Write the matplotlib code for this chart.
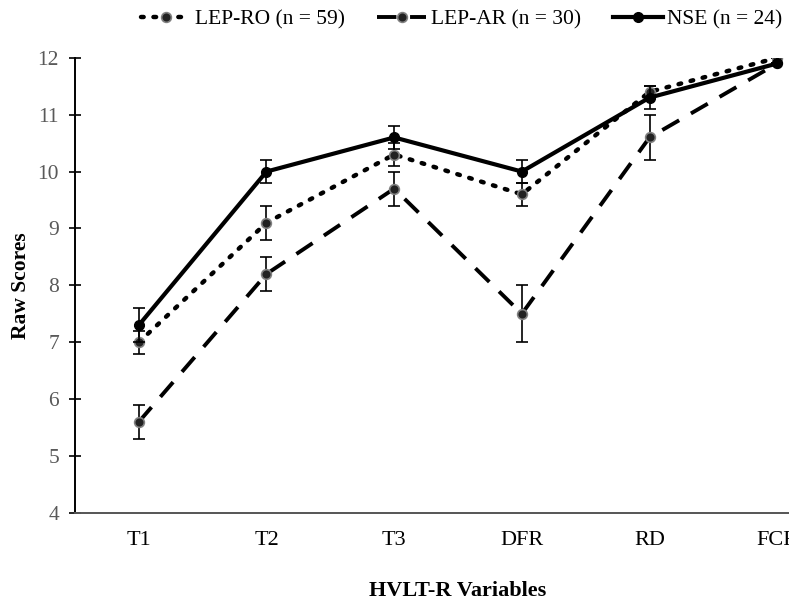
import matplotlib
matplotlib.use("Agg")
import matplotlib.pyplot as plt
from matplotlib.lines import Line2D
import numpy as np

plt.rcParams['font.family'] = ['Liberation Serif', 'DejaVu Serif']

categories = ["T1", "T2", "T3", "DFR", "RD", "FCR"]
lep_ro = [7.0, 9.1, 10.3, 9.6, 11.4, 12.0]
lep_ro_err = [0.2, 0.3, 0.2, 0.2, 0.1, 0.0]
lep_ar = [5.6, 8.2, 9.7, 7.5, 10.6, 11.9]
lep_ar_err = [0.3, 0.3, 0.3, 0.5, 0.4, 0.0]
nse = [7.3, 10.0, 10.6, 10.0, 11.3, 11.9]
nse_err = [0.3, 0.2, 0.2, 0.2, 0.2, 0.0]
labels = ["LEP-RO (n = 59)", "LEP-AR (n = 30)", "NSE (n = 24)"]

fig = plt.figure(figsize=(7.89, 6.02), dpi=100)
ax = fig.add_axes([0.095, 0.148, 0.971, 0.756])
x = np.arange(len(categories))

styles = [
    dict(linestyle=(0, (0.6, 2.2)), linewidth=3.2, dash_capstyle='round',
         markerfacecolor='#222222', markeredgecolor='#808080', markeredgewidth=1.2),
    dict(linestyle=(0, (5, 3.5)), linewidth=2.8,
         markerfacecolor='#222222', markeredgecolor='#808080', markeredgewidth=1.2),
    dict(linestyle='-', linewidth=3.0, markerfacecolor='black', markeredgecolor='black'),
]
series = [(lep_ro, lep_ro_err), (lep_ar, lep_ar_err), (nse, nse_err)]
handles = []
for i, ((vals, errs), st) in enumerate(zip(series, styles)):
    ax.errorbar(x, vals, yerr=errs, color='black', marker='o', markersize=7,
                ecolor='black', elinewidth=1.2, capsize=4, capthick=1.2,
                zorder=3 + (i == 2), **st)
    handles.append(Line2D([], [], color='black', marker='o', markersize=7, **st))

ax.set_xlim(-0.5, 5.5)
ax.set_ylim(4, 12)
ax.set_yticks(range(4, 13))
ax.set_xticks(x)
ax.set_xticklabels(categories)
ax.tick_params(axis='y', direction='inout', length=9, width=1.2, colors='black',
               labelcolor='#595959', labelsize=15.5, pad=7)
ax.tick_params(axis='x', length=0, labelcolor='black', labelsize=16, pad=13)
for s in ['top', 'right']:
    ax.spines[s].set_visible(False)
ax.spines['left'].set_linewidth(1.4)
ax.spines['bottom'].set_linewidth(1.4)
ax.spines['bottom'].set_color('#555555')

ax.set_ylabel("Raw Scores", fontsize=15.5, fontweight='bold')
ax.yaxis.set_label_coords(-0.057, 0.5)
ax.set_xlabel("HVLT-R Variables", fontsize=16, fontweight='bold', labelpad=22)

fig.legend(handles, labels, loc='center', bbox_to_anchor=(0.585, 0.968), ncol=3,
           frameon=False, fontsize=15.5, handlelength=2.3, columnspacing=1.5,
           handletextpad=0.2, borderaxespad=0)

fig.savefig("out.png", dpi=100)
